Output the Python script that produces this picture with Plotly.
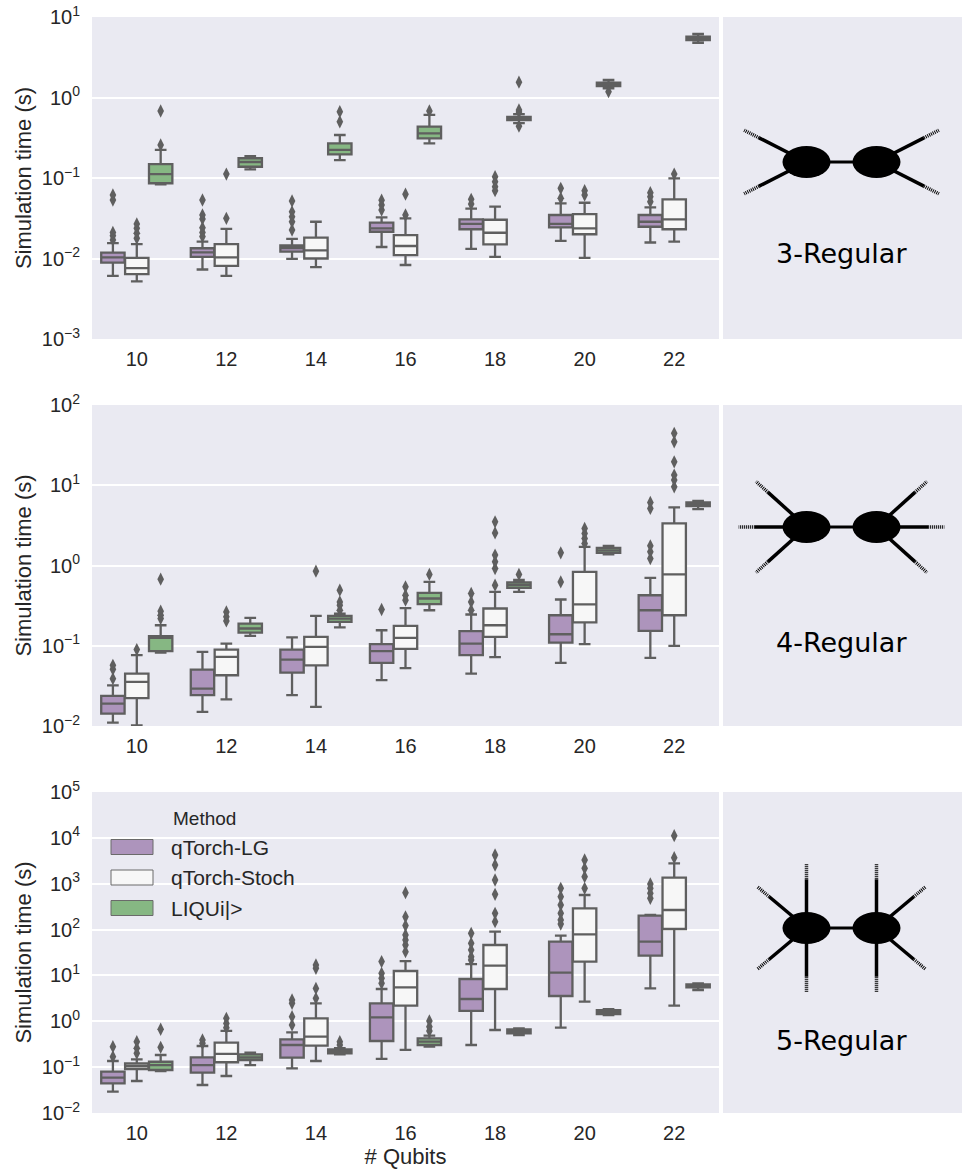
import math
import plotly.graph_objects as go

# ---------------- data ----------------
QUBITS = [10, 12, 14, 16, 18, 20, 22]
METHODS = ["qTorch-LG", "qTorch-Stoch", "LIQUi|>"]
GRAPHS = ["3-Regular", "4-Regular", "5-Regular"]

# box statistics per qubit count: (lower whisker, q1, median, q3, upper whisker), seconds
R3_LG = [(0.0061, 0.0089, 0.0103, 0.0118, 0.0155), (0.0073, 0.0105, 0.0119, 0.0134, 0.0162),
         (0.0099, 0.0122, 0.0135, 0.0145, 0.0175), (0.0139, 0.0215, 0.0237, 0.0279, 0.0325),
         (0.0132, 0.0231, 0.0269, 0.0307, 0.0417), (0.0166, 0.0244, 0.0269, 0.0347, 0.0485),
         (0.0158, 0.0248, 0.0286, 0.0347, 0.0431)]
R3_ST = [(0.0052, 0.0064, 0.0076, 0.0102, 0.0151), (0.0061, 0.0081, 0.0103, 0.0151, 0.0234),
         (0.0078, 0.0100, 0.0126, 0.0182, 0.0286), (0.0083, 0.0110, 0.0143, 0.0195, 0.0316),
         (0.0105, 0.0150, 0.0209, 0.0303, 0.0440), (0.0102, 0.0200, 0.0237, 0.0355, 0.0493),
         (0.0162, 0.0231, 0.0307, 0.0543, 0.0990)]
R3_LQ = [(0.0832, 0.086, 0.112, 0.149, 0.223), (0.128, 0.138, 0.158, 0.176, 0.187),
         (0.167, 0.197, 0.223, 0.27, 0.342), (0.269, 0.311, 0.359, 0.434, 0.607),
         (0.48, 0.525, 0.55, 0.575, 0.62), (1.30, 1.39, 1.46, 1.53, 1.65),
         (4.79, 5.17, 5.43, 5.69, 6.15)]
R3_LG_OUT = [[0.017, 0.0192, 0.0211, 0.0533, 0.0615], [0.0187, 0.0211, 0.0241, 0.031, 0.0347, 0.0533],
             [0.0226, 0.0286, 0.033, 0.038, 0.0518], [0.040, 0.0462, 0.053], [0.0475, 0.0543],
             [0.056, 0.0745], [0.0508, 0.0586, 0.0656]]
R3_ST_OUT = [[0.0178, 0.0206, 0.0237, 0.0269], [0.0316, 0.112], [], [0.0347, 0.063],
             [0.0695, 0.078, 0.090, 0.104], [0.0615, 0.0695], [0.112]]
R3_LQ_OUT = [[0.257, 0.68], [], [0.50, 0.667], [0.68], [0.44, 0.66, 0.70, 1.55], [1.18], []]

R4_LG = [(0.011, 0.0143, 0.019, 0.0237, 0.0321), (0.015, 0.0242, 0.0292, 0.0505, 0.0838),
         (0.0242, 0.0463, 0.0673, 0.0897, 0.127), (0.0372, 0.0611, 0.0855, 0.1045, 0.156),
         (0.045, 0.0762, 0.106, 0.152, 0.245), (0.0611, 0.1096, 0.139, 0.24, 0.377),
         (0.0705, 0.153, 0.277, 0.426, 0.70)]
R4_ST = [(0.0102, 0.0223, 0.0354, 0.045, 0.0762), (0.0215, 0.0429, 0.0726, 0.0897, 0.106),
         (0.0173, 0.0571, 0.0966, 0.129, 0.235), (0.0525, 0.0912, 0.125, 0.177, 0.294),
         (0.072, 0.129, 0.18, 0.291, 0.469), (0.1045, 0.195, 0.327, 0.834, 1.71),
         (0.0996, 0.24, 0.773, 3.34, 5.3)]
R4_LQ = [(0.0822, 0.0855, 0.125, 0.1315, 0.18), (0.133, 0.146, 0.164, 0.189, 0.222),
         (0.169, 0.198, 0.218, 0.235, 0.252), (0.277, 0.33, 0.388, 0.456, 0.625),
         (0.469, 0.526, 0.569, 0.614, 0.66), (1.38, 1.44, 1.54, 1.66, 1.76),
         (5.05, 5.5, 5.77, 6.1, 6.4)]
R4_LG_OUT = [[0.0389, 0.0509, 0.0571], [], [], [0.283], [0.277, 0.352, 0.448], [0.625, 1.44],
             [1.22, 1.48, 1.76, 5.14, 6.1]]
R4_ST_OUT = [[0.0897], [0.204, 0.229, 0.264], [0.849], [0.37, 0.426, 0.542],
             [0.569, 0.918, 1.11, 1.35, 2.55, 3.5], [1.88, 2.17, 2.51, 2.9],
             [9.57, 11.6, 13.4, 19.6, 34.8, 44.4]]
R4_LQ_OUT = [[0.218, 0.24, 0.27, 0.676], [], [0.277, 0.32, 0.352, 0.492], [0.773], [0.773], [], []]

R5_LG = [(0.0292, 0.0444, 0.0589, 0.0796, 0.136), (0.0408, 0.0757, 0.111, 0.164, 0.289),
         (0.0942, 0.161, 0.304, 0.405, 0.575), (0.151, 0.372, 1.22, 2.46, 5.06),
         (0.304, 1.68, 3.06, 8.36, 17.7), (0.725, 3.56, 11.5, 54.5, 73.5),
         (5.22, 26.9, 54.5, 201, 208)]
R5_ST = [(0.0499, 0.0912, 0.106, 0.121, 0.148), (0.0641, 0.128, 0.194, 0.342, 0.615),
         (0.136, 0.294, 0.461, 1.16, 2.46), (0.237, 2.19, 5.5, 12.5, 20.6),
         (0.646, 5.06, 16.3, 46.1, 90.2), (2.68, 20, 78.9, 291, 568),
         (2.19, 103, 267, 1355, 2790)]
R5_LQ = [(0.0824, 0.0867, 0.111, 0.131, 0.184), (0.111, 0.143, 0.164, 0.19, 0.207),
         (0.19, 0.2, 0.217, 0.245, 0.258), (0.279, 0.304, 0.359, 0.426, 0.486),
         (0.502, 0.547, 0.593, 0.668, 0.703), (1.37, 1.43, 1.57, 1.76, 1.83),
         (4.81, 5.5, 5.97, 6.4, 6.73)]
R5_LG_OUT = [[0.169, 0.28], [0.331, 0.391], [0.83, 1.26, 2.46, 2.92], [6.73, 8.65, 11.1, 20],
             [21.7, 25.6, 35.9, 50.1, 83], [132, 162, 226, 344, 522, 794], [481, 618, 794, 986]]
R5_ST_OUT = [[0.2, 0.258, 0.359], [0.725, 0.90, 1.16], [3.16, 5.22, 14.3, 16.9],
             [33, 46.1, 59.3, 76.2, 122, 190, 638], [149, 226, 588, 1205, 2560, 4230],
             [794, 1426, 2170, 3290], [3700, 11140]]
R5_LQ_OUT = [[0.271, 0.67], [], [0.304, 0.359], [0.615, 0.762, 1.02], [], [], []]

# decade tick exponents shown on each panel's y axis
R3_EXP = [-3, -2, -1, 0, 1]
R4_EXP = [-2, -1, 0, 1, 2]
R5_EXP = [-2, -1, 0, 1, 2, 3, 4, 5]

# node degree of each graph family (edges per vertex)
DEGREES = [3, 4, 5]

# ---------------- styling / layout ----------------
W, H = 968, 1175
COLORS = ["#AD94BC", "#F7F7F7", "#86B783"]
LINE = "#5F5F5F"
BG = "#EAEAF2"
TXT = "#262626"
FONT = "Liberation Sans, Arial, sans-serif"

ROWS_PX = [(17, 339), (405, 726), (792, 1113)]
MAIN_X = (92, 719)
SIDE_X = (723, 962)
EXPS = [R3_EXP, R4_EXP, R5_EXP]
OFFSETS = [-0.2667, 0.0, 0.2667]
BOXW = 0.261

SERIES = [[R3_LG, R3_ST, R3_LQ], [R4_LG, R4_ST, R4_LQ], [R5_LG, R5_ST, R5_LQ]]
OUTS = [[R3_LG_OUT, R3_ST_OUT, R3_LQ_OUT], [R4_LG_OUT, R4_ST_OUT, R4_LQ_OUT],
        [R5_LG_OUT, R5_ST_OUT, R5_LQ_OUT]]

# glyph geometry (in side-panel pixels)
GLYPH = {
    3: dict(cy=145, angles=[153, 207], length=70, ty=236),
    4: dict(cy=122, angles=[138, 180, 222], length=68, ty=237),
    5: dict(cy=136, angles=[90, 140, 220, 270], length=64, ty=248),
}


def PX(x):
    return x / W


def PY(y):
    return 1 - y / H


def sup(k):
    s = str(k).replace("-", "\u2212")
    return f"10<sup>{s}</sup>"


fig = go.Figure()
layout = dict(
    width=W, height=H, autosize=False,
    margin=dict(l=0, r=0, t=0, b=0, autoexpand=False),
    paper_bgcolor="white", plot_bgcolor=BG,
    showlegend=False,
    font=dict(family=FONT, color=TXT),
)
shapes = []
annotations = []

for r, (top, bot) in enumerate(ROWS_PX):
    mi, si = 2 * r + 1, 2 * r + 2
    mx = "x" if mi == 1 else f"x{mi}"
    my = "y" if mi == 1 else f"y{mi}"
    sx, sy = f"x{si}", f"y{si}"
    ydom = [PY(bot), PY(top)]
    exps = EXPS[r]

    layout["xaxis" if mi == 1 else f"xaxis{mi}"] = dict(
        domain=[PX(MAIN_X[0]), PX(MAIN_X[1])], anchor=my, automargin=False,
        range=[-0.5, len(QUBITS) - 0.5], tickmode="array",
        tickvals=list(range(len(QUBITS))), ticktext=[str(q) for q in QUBITS],
        showgrid=False, zeroline=False, showline=False, ticks="",
        tickfont=dict(size=20, color=TXT, family=FONT), ticklabelstandoff=6,
        title=dict(text="# Qubits" if r == 2 else "", font=dict(size=22, color=TXT, family=FONT),
                   standoff=4),
    )
    layout["yaxis" if mi == 1 else f"yaxis{mi}"] = dict(
        domain=ydom, anchor=mx, type="log", range=[exps[0], exps[-1]], automargin=False,
        tickmode="array", tickvals=[10.0 ** k for k in exps], ticktext=[sup(k) for k in exps],
        showgrid=True, gridcolor="white", gridwidth=1.5,
        zeroline=False, showline=False, ticks="", ticklabelstandoff=11,
        tickfont=dict(size=20, color=TXT, family=FONT),
        title=dict(text="Simulation time (s)", font=dict(size=22, color=TXT, family=FONT), standoff=4),
    )
    span = bot - top
    layout[f"xaxis{si}"] = dict(domain=[PX(SIDE_X[0]), PX(SIDE_X[1])], anchor=sy, automargin=False,
                                range=[0, SIDE_X[1] - SIDE_X[0]], showgrid=False, zeroline=False,
                                showticklabels=False, ticks="", showline=False, fixedrange=True)
    layout[f"yaxis{si}"] = dict(domain=ydom, anchor=sx, range=[span, 0], showgrid=False,
                                automargin=False,
                                zeroline=False, showticklabels=False, ticks="", showline=False,
                                fixedrange=True)

    # boxes + outliers
    for m in range(3):
        stats = SERIES[r][m]
        xs = [i + OFFSETS[m] for i in range(len(QUBITS))]
        fig.add_trace(go.Box(
            x=xs,
            lowerfence=[s[0] for s in stats], q1=[s[1] for s in stats],
            median=[s[2] for s in stats], q3=[s[3] for s in stats],
            upperfence=[s[4] for s in stats],
            width=BOXW, whiskerwidth=0.5, boxpoints=False,
            fillcolor=COLORS[m], line=dict(color=LINE, width=2.3),
            name=METHODS[m], xaxis=mx, yaxis=my,
        ))
        ox, oy = [], []
        for i, outs in enumerate(OUTS[r][m]):
            for v in outs:
                ox.append(i + OFFSETS[m])
                oy.append(v)
        fig.add_trace(go.Scatter(
            x=ox, y=oy, mode="markers", xaxis=mx, yaxis=my, name=METHODS[m],
            marker=dict(symbol="diamond-tall", size=9.5, color=LINE, line=dict(width=0)),
        ))

    # side panel glyph
    deg = DEGREES[r]
    g = GLYPH[deg]
    cxm = (SIDE_X[1] - SIDE_X[0]) / 2 - 1
    centers = [cxm - 35, cxm + 35]
    cy = g["cy"]
    shapes.append(dict(type="line", xref=sx, yref=sy, x0=centers[0], x1=centers[1], y0=cy, y1=cy,
                       line=dict(color="black", width=3)))
    for side, cx in enumerate(centers):
        for a in g["angles"]:
            ang = math.radians(a if side == 0 else 180 - a)
            dx, dy = math.cos(ang), -math.sin(ang)
            L = g["length"]
            sx0, sy0 = cx + dx * 0.76 * L, cy + dy * 0.76 * L
            shapes.append(dict(type="line", xref=sx, yref=sy, x0=cx, y0=cy, x1=sx0, y1=sy0,
                               line=dict(color="black", width=3.5)))
            shapes.append(dict(type="line", xref=sx, yref=sy, x0=sx0, y0=sy0,
                               x1=cx + dx * L, y1=cy + dy * L,
                               line=dict(color="black", width=3.5, dash="1px,1px")))
    for cx in centers:
        shapes.append(dict(type="circle", xref=sx, yref=sy, x0=cx - 24, x1=cx + 24,
                           y0=cy - 16, y1=cy + 16, fillcolor="black", line=dict(width=0)))
    annotations.append(dict(xref=sx, yref=sy, x=cxm, y=g["ty"], text=GRAPHS[r], showarrow=False,
                            font=dict(family="DejaVu Sans", size=27, color="black"),
                            xanchor="center", yanchor="middle"))

# manual legend in bottom panel
annotations.append(dict(xref="paper", yref="paper", x=PX(171), y=PY(818), text="Method",
                        showarrow=False, xanchor="left", yanchor="middle",
                        font=dict(size=19, color=TXT, family=FONT)))
for m, name in enumerate(METHODS):
    yc = 847 + 30.5 * m
    shapes.append(dict(type="rect", xref="paper", yref="paper", x0=PX(111), x1=PX(153),
                       y0=PY(yc - 7.5), y1=PY(yc + 7.5), fillcolor=COLORS[m],
                       line=dict(color="#6A6A6A", width=1)))
    annotations.append(dict(xref="paper", yref="paper", x=PX(169), y=PY(yc), text=name,
                            showarrow=False, xanchor="left", yanchor="middle",
                            font=dict(size=21, color=TXT, family=FONT)))

layout["shapes"] = shapes
layout["annotations"] = annotations
fig.update_layout(**layout)
fig.write_html("out.html")
